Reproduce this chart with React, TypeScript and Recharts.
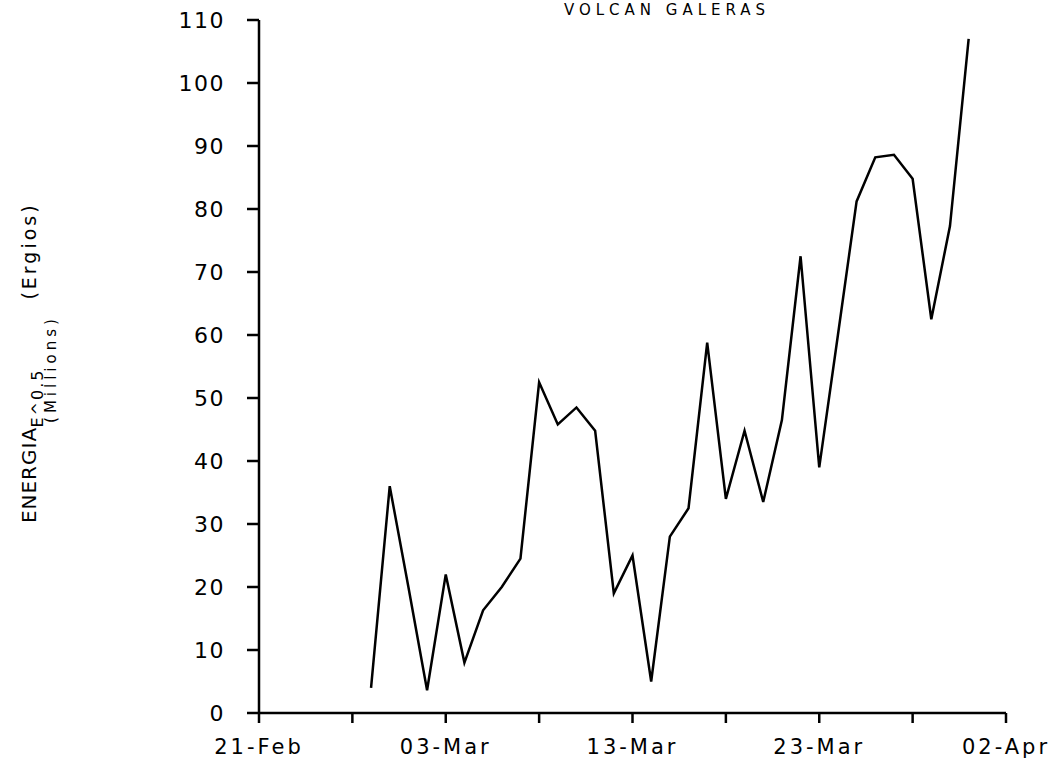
import React from "react";
import { LineChart, Line, XAxis, YAxis, Label } from "recharts";

// daily readings, Galeras volcano, Feb-Mar 1993
const dates = [
  "1993-02-27", "1993-02-28", "1993-03-01", "1993-03-02", "1993-03-03",
  "1993-03-04", "1993-03-05", "1993-03-06", "1993-03-07", "1993-03-08",
  "1993-03-09", "1993-03-10", "1993-03-11", "1993-03-12", "1993-03-13",
  "1993-03-14", "1993-03-15", "1993-03-16", "1993-03-17", "1993-03-18",
  "1993-03-19", "1993-03-20", "1993-03-21", "1993-03-22", "1993-03-23",
  "1993-03-24", "1993-03-25", "1993-03-26", "1993-03-27", "1993-03-28",
  "1993-03-29", "1993-03-30", "1993-03-31",
];

const energy = [
  4, 36, 20, 3.6, 22,
  8, 16.3, 20, 24.5, 52.5,
  45.8, 48.5, 44.8, 19, 25,
  5, 28, 32.5, 58.8, 34,
  44.8, 33.5, 46.5, 72.5, 39,
  60, 81.2, 88.2, 88.6, 84.8,
  62.5, 77.3, 107,
];

const tickDates = [
  "1993-02-21", "1993-02-26", "1993-03-03", "1993-03-08", "1993-03-13",
  "1993-03-18", "1993-03-23", "1993-03-28", "1993-04-02",
];
const tickLabels = ["21-Feb", "", "03-Mar", "", "13-Mar", "", "23-Mar", "", "02-Apr"];
const yTicks = [0, 10, 20, 30, 40, 50, 60, 70, 80, 90, 100, 110];

const toTime = (d: string) => Date.parse(d + "T00:00:00Z");
const data = dates.map((d, i) => ({ t: toTime(d), energy: energy[i] }));
const xTicks = tickDates.map(toTime);
const xDomain = [xTicks[0], xTicks[xTicks.length - 1]];

const font = "'DejaVu Sans', sans-serif";

function SideText() {
  const rot = (x: number, y: number) => `rotate(-90 ${x} ${y})`;
  return (
    <g fill="#000" fontFamily={font}>
      <text x={667} y={15} textAnchor="middle" fontSize={15} letterSpacing={5}>
        VOLCAN GALERAS
      </text>
      <text x={36} y={475} transform={rot(36, 475)} textAnchor="middle" fontSize={20} letterSpacing={1}>
        ENERGIA
      </text>
      <text x={43} y={398} transform={rot(43, 398)} textAnchor="middle" fontSize={16} letterSpacing={2}>
        E^0.5
      </text>
      <text x={56} y={369} transform={rot(56, 369)} textAnchor="middle" fontSize={15} letterSpacing={4}>
        (Millions)
      </text>
      <text x={36} y={251} transform={rot(36, 251)} textAnchor="middle" fontSize={19} letterSpacing={3}>
        (Ergios)
      </text>
    </g>
  );
}

export default function App() {
  return (
    <div style={{ position: "absolute", left: 0, top: 0, width: 1054, height: 764, background: "#fff" }}>
      <LineChart width={1054} height={764} data={data} margin={{ top: 20, right: 48, bottom: 0, left: 0 }}>
        <XAxis
          dataKey="t"
          type="number"
          domain={xDomain}
          ticks={xTicks}
          tickFormatter={(v) => tickLabels[xTicks.indexOf(v)] ?? ""}
          interval={0}
          height={51}
          tickSize={10}
          tickMargin={16}
          fontSize={21}
          fontFamily={font}
          axisLine={{ stroke: "#000", strokeWidth: 2.5 }}
          tickLine={{ stroke: "#000", strokeWidth: 2.5 }}
          tick={{ fill: "#000", fontSize: 21, fontFamily: font, letterSpacing: 3 }}
        />
        <XAxis
          xAxisId="top"
          orientation="top"
          dataKey="t"
          type="number"
          domain={xDomain}
          height={0}
          tick={false}
          tickLine={false}
          axisLine={{ stroke: "#000", strokeWidth: 2.5 }}
        />
        <YAxis
          domain={[0, 110]}
          ticks={yTicks}
          interval={0}
          width={259}
          tickSize={12}
          tickMargin={22}
          fontSize={22}
          fontFamily={font}
          axisLine={{ stroke: "#000", strokeWidth: 2.5 }}
          tickLine={{ stroke: "#000", strokeWidth: 2.5 }}
          tick={{ fill: "#000", fontSize: 22, fontFamily: font, letterSpacing: 1.5 }}
        >
          <Label content={() => <SideText />} />
        </YAxis>
        <YAxis
          yAxisId="right"
          orientation="right"
          domain={[0, 110]}
          width={0}
          tick={false}
          tickLine={false}
          axisLine={{ stroke: "#000", strokeWidth: 2.5 }}
        />
        <Line
          type="linear"
          dataKey="energy"
          stroke="#000"
          strokeWidth={2.5}
          dot={false}
          isAnimationActive={false}
        />
      </LineChart>
    </div>
  );
}
